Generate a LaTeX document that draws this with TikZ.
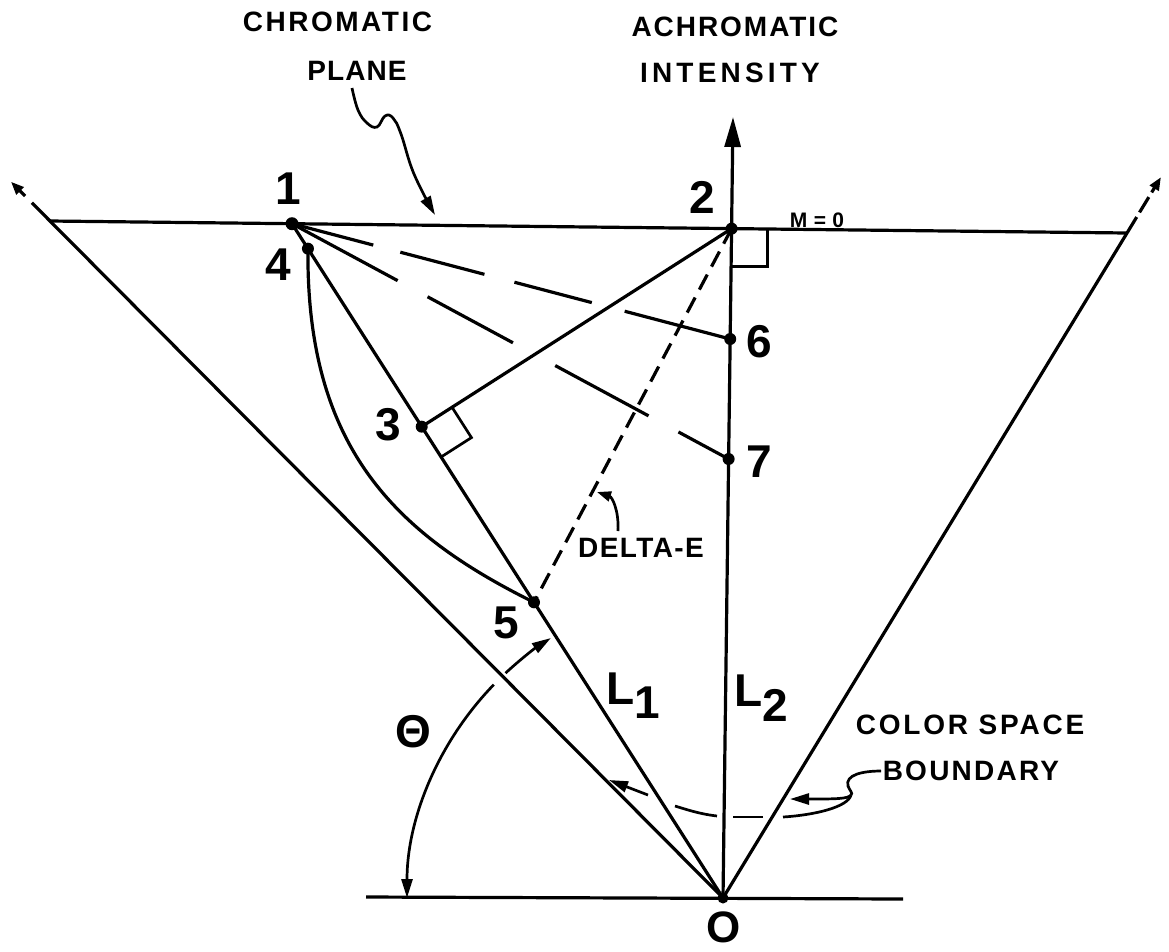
\documentclass[tikz,border=0pt]{standalone}
\usepackage{fontspec}
\setmainfont{Liberation Sans}
\usetikzlibrary{arrows.meta,calc}
\newcommand{\lsp}[2]{{\addfontfeatures{LetterSpace=#1}#2}}
\begin{document}
\begin{tikzpicture}[x=1pt,y=-1pt,
  ln/.style={line width=3.2pt},
  lnthin/.style={line width=2.7pt},
  arrw/.style={-{Triangle[length=19pt,width=11pt]}},
  smallarrw/.style={-{Triangle[length=13pt,width=10pt]}},
  dot/.style={circle,fill=black,inner sep=0pt,minimum size=12pt},
  lbl/.style={font=\fontsize{28}{30}\selectfont\bfseries,inner sep=0pt},
  num/.style={font=\fontsize{46}{48}\selectfont\bfseries,inner sep=0pt}]
\useasboundingbox (0,0) rectangle (1169,951);

% frame coordinates
\coordinate (O) at (723,898);
\coordinate (TL) at (50,221);
\coordinate (TR) at (1127,233);
\coordinate (AT) at (733,117);
\coordinate (BL) at (366,897);
\coordinate (BR) at (903,899);

% chromatic plane, base line, cone boundary, axis
\draw[ln] (TL) -- (TR);
\draw[ln] (BL) -- (BR);
\draw[ln] (O) -- ($(O)!1.027!(TL)$);
\draw[ln,smallarrw] ($(O)!1.037!(TL)$) -- ($(O)!1.058!(TL)$);
\draw[ln] (O) -- ($(O)!1.024!(TR)$);
\draw[ln] ($(O)!1.031!(TR)$) -- ($(O)!1.054!(TR)$);
\draw[ln,smallarrw] ($(O)!1.061!(TR)$) -- ($(O)!1.084!(TR)$);
\draw[ln,-{Triangle[length=30pt,width=16pt]}] (O) -- (AT);

% points
\node[dot,minimum size=13pt] (n1) at (292,223.7) {};
\node[dot] (n2) at (731.6,228.6) {};
\node[dot] (n4) at ($(n1.center)!0.037!(O)$) {};
\node[dot] (n5) at ($(n1.center)!0.5615!(O)$) {};
\node[dot] (n3) at ($(n1.center)!(n2.center)!(O)$) {};
\node[dot] (n6) at (730.2,339) {};
\node[dot] (n7) at (728.6,459) {};
\node[dot,minimum size=11pt] (nO) at (O) {};

% construction lines
\draw[ln] (n1.center) -- (nO.center);
\draw[ln] (n2.center) -- (n3.center);
\draw[ln] (n4.center) .. controls (306,448) and (396,534) .. (n5.center);
\draw[ln,dash pattern=on 17pt off 9pt] (n2.center) -- (n5.center);
\draw[ln,dash pattern=on 84pt off 28pt on 87pt off 31pt on 80pt off 34pt on 120pt] (n1.center) -- (n6.center);
\draw[ln,dash pattern=on 120pt off 34pt on 97pt off 48pt on 106pt off 34pt on 70pt] (n1.center) -- (n7.center);

% right-angle marks
\draw[lnthin] ($(n2.center)+(0,38)$) -- ++(36,0) -- ++(0,-37);
\coordinate (sqA) at ($(n3.center)!36pt!(n2.center)$);
\coordinate (sqB) at ($(n3.center)!36pt!(nO.center)$);
\draw[lnthin] (sqA) -- ($(sqA)+(sqB)-(n3.center)$) -- (sqB);

% theta arcs
\draw[lnthin,arrw] ($(O)+(-133.5:316 and 310)$) arc[start angle=-133.5,end angle=-123,x radius=316,y radius=310];
\draw[lnthin,arrw] ($(O)+(-136.5:316 and 310)$) arc[start angle=-136.5,end angle=-180,x radius=316,y radius=310];

% labels
\node[lbl] (tCP1) at (337.5,22) {\lsp{9}{CHROMATIC}};
\node[lbl] (tCP2) at (357,71) {\lsp{4}{PLANE}};
\node[lbl] (tAI1) at (735,27) {\lsp{7}{ACHROMATIC}};
\node[lbl] (tAI2) at (730,73) {\lsp{15}{INTENSITY}};
\node[lbl] (tCS1) at (970,725) {\lsp{10}{COLOR SPACE}};
\node[lbl] (tCS2) at (971,771) {\lsp{8}{BOUNDARY}};
\node[lbl] (tDE) at (641,548) {\lsp{5}{DELTA-E}};
\node[font=\fontsize{21}{23}\selectfont\bfseries,inner sep=0pt] (tM) at (817,220) {\lsp{30}{M=0}};

\node[num] (l1) at (288,188.5) {1};
\node[num] (l2) at (702,197) {2};
\node[num] (l3) at (388.5,425) {3};
\node[num] (l4) at (278,265) {4};
\node[num] (l5) at (506,623) {5};
\node[num] (l6) at (759,341.5) {6};
\node[num] (l7) at (759.5,462) {7};
\node[num,font=\fontsize{44}{46}\selectfont\bfseries] (lO) at (723.5,927) {O};
\node[num] (lth) at (413,731.5) {Θ};
\node[num,anchor=north west] (lL1) at (606,673) {L\raisebox{-14pt}{1}};
\node[num,anchor=north west] (lL2) at (734,675) {L\raisebox{-15pt}{2}};

% leaders
\coordinate (cpS) at (352,88);
\coordinate (cpE) at (435,215);
\draw[lnthin,arrw] plot[smooth,tension=0.7] coordinates {(cpS) (358,110) (367,123) (377,127) (385,116) (393,118) (401,134) (414,174) (cpE)};

\coordinate (deS) at (618,531);
\coordinate (deE) at (597,492);
\draw[lnthin,-{Triangle[length=14pt,width=10pt]}] (deS) .. controls (619,510) and (612,497) .. (deE);

\coordinate (bS) at (881,771);
\coordinate (bF) at (851,795);
\coordinate (bR) at (790,799);
\coordinate (bL) at (609,780);
\draw[lnthin] (bS) .. controls (862,771) and (845,775) .. (848,786) .. controls (850,791) and (853,793) .. (bF);
\draw[lnthin,arrw] (bF) .. controls (848,799) and (835,799) .. (bR);
\draw[lnthin] (bF) .. controls (848,807) and (815,815) .. (783,817);
\draw[lnthin] (763,817) -- (733,817);
\draw[lnthin] (717,816) .. controls (700,814) and (688,810) .. (675,806);
\draw[lnthin,arrw] (648,795) -- (bL);
\end{tikzpicture}
\end{document}
